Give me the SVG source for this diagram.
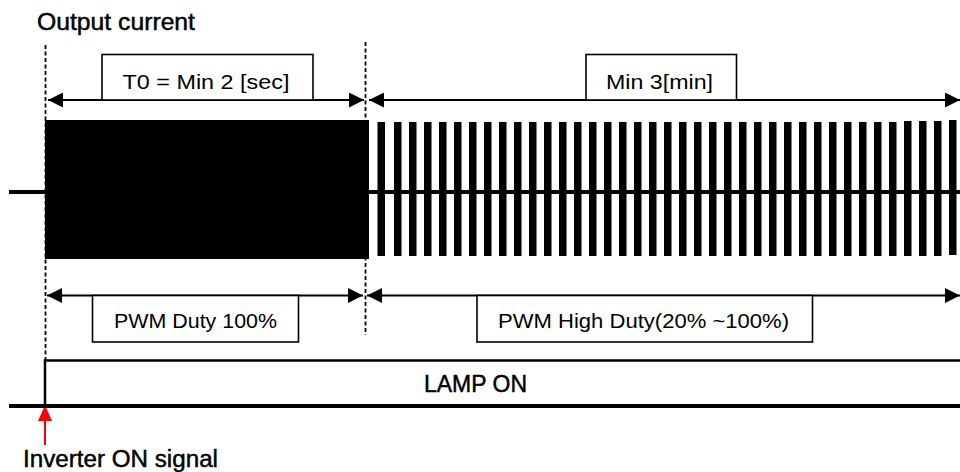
<svg xmlns="http://www.w3.org/2000/svg" width="960" height="472" viewBox="0 0 960 472">
<style>
.t{font-family:"Liberation Sans",Arial,sans-serif;fill:#000}
.lbl{font-size:20.5px}
.big{font-size:23px;stroke:#000;stroke-width:0.45}
.box{fill:#fff;stroke:#000;stroke-width:1.6}
.dash{stroke:#000;stroke-width:1.8;stroke-dasharray:4 2.5;fill:none}
.arr{stroke:#000;stroke-width:2;fill:none;marker-start:url(#ah);marker-end:url(#ah)}
.bar{fill:#000}
</style>
<defs>
<marker id="ah" markerUnits="userSpaceOnUse" markerWidth="16" markerHeight="15" refX="15" refY="7.5" orient="auto-start-reverse">
<path d="M0,0 L15,7.5 L0,15 z" fill="#000"/>
</marker>
<marker id="rh" markerUnits="userSpaceOnUse" markerWidth="17" markerHeight="15" refX="16" refY="7" orient="auto">
<path d="M0,0 L16,7 L0,14 z" fill="#f00"/>
</marker>
</defs>
<rect width="960" height="472" fill="#fff"/>

<g id="title">
<text class="t big" x="37" y="29.5" textLength="158" lengthAdjust="spacingAndGlyphs">Output current</text>
</g>

<g id="waveform">
<rect class="bar" x="45" y="120" width="324" height="139"/>
<line x1="9" y1="192" x2="960" y2="192" stroke="#000" stroke-width="4"/>
<rect class="bar" x="377.5" y="122" width="7.5" height="134"/>
<rect class="bar" x="394" y="122" width="7.5" height="134"/>
<rect class="bar" x="409" y="122" width="7.5" height="134"/>
<rect class="bar" x="424" y="122" width="7.5" height="134"/>
<rect class="bar" x="439" y="122" width="7.5" height="134"/>
<rect class="bar" x="454" y="122" width="7.5" height="134"/>
<rect class="bar" x="469" y="122" width="7.5" height="134"/>
<rect class="bar" x="484" y="122" width="7.5" height="134"/>
<rect class="bar" x="499" y="122" width="7.5" height="134"/>
<rect class="bar" x="514" y="122" width="7.5" height="134"/>
<rect class="bar" x="529" y="122" width="7.5" height="134"/>
<rect class="bar" x="544" y="122" width="7.5" height="134"/>
<rect class="bar" x="559" y="122" width="7.5" height="134"/>
<rect class="bar" x="574" y="122" width="7.5" height="134"/>
<rect class="bar" x="589" y="122" width="7.5" height="134"/>
<rect class="bar" x="604" y="122" width="7.5" height="134"/>
<rect class="bar" x="619" y="122" width="7.5" height="134"/>
<rect class="bar" x="634" y="122" width="7.5" height="134"/>
<rect class="bar" x="649" y="122" width="7.5" height="134"/>
<rect class="bar" x="664" y="122" width="7.5" height="134"/>
<rect class="bar" x="679" y="122" width="7.5" height="134"/>
<rect class="bar" x="694" y="122" width="7.5" height="134"/>
<rect class="bar" x="709" y="122" width="7.5" height="134"/>
<rect class="bar" x="724" y="122" width="7.5" height="134"/>
<rect class="bar" x="739" y="122" width="7.5" height="134"/>
<rect class="bar" x="754" y="122" width="7.5" height="134"/>
<rect class="bar" x="769" y="122" width="7.5" height="134"/>
<rect class="bar" x="784" y="122" width="7.5" height="134"/>
<rect class="bar" x="799" y="122" width="7.5" height="134"/>
<rect class="bar" x="814" y="122" width="7.5" height="134"/>
<rect class="bar" x="829" y="122" width="7.5" height="134"/>
<rect class="bar" x="844" y="122" width="7.5" height="134"/>
<rect class="bar" x="859" y="122" width="7.5" height="134"/>
<rect class="bar" x="874" y="122" width="7.5" height="134"/>
<rect class="bar" x="889" y="122" width="7.5" height="134"/>
<rect class="bar" x="904" y="121" width="7.5" height="135"/>
<rect class="bar" x="919" y="121" width="7.5" height="135"/>
<rect class="bar" x="934" y="121" width="7.5" height="135"/>
<rect class="bar" x="949" y="120" width="7.5" height="135"/>
</g>

<g id="connectors">
<line class="dash" x1="45.5" y1="45" x2="45.5" y2="360"/>
<line class="dash" x1="365.5" y1="42" x2="365.5" y2="335"/>
<line class="arr" x1="48" y1="100" x2="364" y2="100"/>
<line class="arr" x1="369" y1="100" x2="960" y2="100"/>
<line class="arr" x1="47" y1="295.5" x2="363" y2="295.5"/>
<line class="arr" x1="367" y1="295.5" x2="960" y2="295.5"/>
<line x1="45" y1="445" x2="45" y2="405" stroke="#f00" stroke-width="2" marker-end="url(#rh)"/>
</g>

<g id="t0-box">
<rect class="box" x="102" y="54.5" width="211" height="45.5"/>
<text class="t lbl" x="122.5" y="89" textLength="167" lengthAdjust="spacingAndGlyphs">T0 = Min 2 [sec]</text>
</g>

<g id="min3-box">
<rect class="box" x="586" y="54.5" width="150.5" height="45.5"/>
<text class="t lbl" x="606" y="89" textLength="107" lengthAdjust="spacingAndGlyphs">Min 3[min]</text>
</g>

<g id="duty100-box">
<rect class="box" x="92.5" y="295.5" width="206" height="46.5"/>
<text class="t lbl" x="114" y="328" textLength="163" lengthAdjust="spacingAndGlyphs">PWM Duty 100%</text>
</g>

<g id="highduty-box">
<rect class="box" x="477" y="295.5" width="335.5" height="46.5"/>
<text class="t lbl" x="498" y="328" textLength="291" lengthAdjust="spacingAndGlyphs">PWM High Duty(20% ~100%)</text>
</g>

<g id="lamp">
<polyline points="45,406 45,360.5 960,360.5" fill="none" stroke="#000" stroke-width="2.5"/>
<line x1="9" y1="406" x2="960" y2="406" stroke="#000" stroke-width="4"/>
<text class="t big" x="424" y="392" textLength="103" lengthAdjust="spacingAndGlyphs">LAMP ON</text>
</g>

<g id="signal">
<text class="t big" x="23" y="466.5" textLength="195" lengthAdjust="spacingAndGlyphs">Inverter ON signal</text>
</g>
</svg>
